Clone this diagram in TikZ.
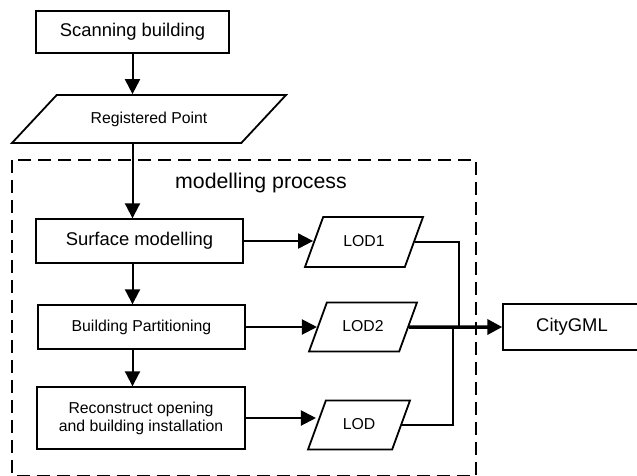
\documentclass[tikz,border=0pt]{standalone}
\usepackage{fontspec}
\setmainfont{Liberation Sans}
\usetikzlibrary{arrows.meta,shapes.geometric}

\tikzset{
  proc/.style={draw,line width=1.4pt,align=center,inner sep=0pt},
  data/.style={draw,line width=1.8pt,trapezium,trapezium left angle=70,
    trapezium right angle=110,trapezium stretches body,inner xsep=0pt,
    text height=11.4pt,text depth=3.3pt},
  flow/.style={line width=2pt,-{Triangle[length=15pt,width=15pt]}},
  joinline/.style={line width=2pt},
  procbox/.style={line width=1.8pt,dash pattern=on 13pt off 7pt},
  big/.style={font=\fontsize{18.4}{22}\selectfont},
  small/.style={font=\fontsize{15.8}{18}\selectfont},
}

\begin{document}
\begin{tikzpicture}[x=1pt,y=-1pt]
\useasboundingbox (0,0) rectangle (637,475);
%input
\node[proc,big,minimum width=193pt,minimum height=42pt] (scan) at (132.5,32) {Scanning building};
\node[data,small,trapezium left angle=47,trapezium right angle=133,
  inner ysep=16.6pt,minimum width=274pt] (reg) at (149,119) {Registered Point};
%modelling process
\draw[procbox] (12,160) rectangle (476,475.5);
\node[font=\fontsize{21.3}{25}\selectfont] (title) at (261,183) {modelling process};
\node[proc,big,minimum width=207pt,minimum height=44pt] (surf) at (139.5,241) {Surface modelling};
\node[proc,small,minimum width=207pt,minimum height=44pt] (part) at (141.5,327) {Building Partitioning};
\node[proc,small,minimum width=208pt,minimum height=62pt] (recon) at (141,418) {Reconstruct opening\\and building installation};
%outputs
\node[data,small,inner ysep=17.6pt,minimum width=118pt] (lod1) at (364,242) {LOD1};
\node[data,small,inner ysep=17.2pt,minimum width=108pt] (lod2) at (363,327) {LOD2};
\node[data,small,inner ysep=17.2pt,minimum width=102pt] (lod3) at (359,425) {LOD};
\node[proc,big,minimum width=138pt,minimum height=46pt] (city) at (572,327) {CityGML};
\coordinate (j1) at (459,0);
\coordinate (j3) at (453,0);
%arrows
\draw[flow] (scan.south) -- (scan.south |- reg.north);
\draw[flow] (scan.south |- reg.south) -- (scan.south |- surf.north);
\draw[flow] (scan.south |- surf.south) -- (scan.south |- part.north);
\draw[flow] (scan.south |- part.south) -- (scan.south |- recon.north);
\draw[flow] (surf.east) -- (surf.east -| lod1.west);
\draw[flow] (part.east) -- (part.east -| lod2.west);
\draw[flow] (recon.east) -- (recon.east -| lod3.west);
\draw[joinline] (lod1.east) -| (j1 |- lod2.east);
\draw[joinline] (lod3.east) -| (j3 |- lod2.east);
\draw[flow,line width=3.5pt] (lod2.east) -- (city.west);
\end{tikzpicture}
\end{document}
